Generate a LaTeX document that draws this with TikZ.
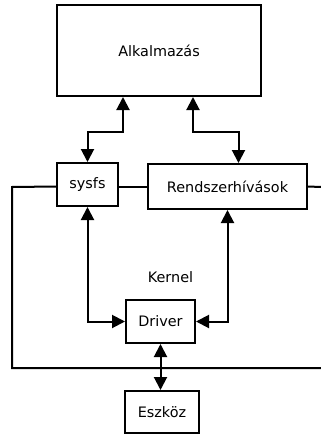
\documentclass[tikz,border=0pt]{standalone}
\usepackage{fontspec}
\setmainfont{DejaVu Sans}
\usetikzlibrary{arrows.meta}
\begin{document}
\begin{tikzpicture}[x=1pt,y=-1pt,
  font=\fontsize{14.4pt}{17pt}\selectfont,
  box/.style={draw,line width=2pt,rectangle,inner sep=0pt},
  conn/.style={line width=2pt},
  dbl/.style={line width=2pt,{Triangle[width=13pt,length=13pt]}-{Triangle[width=13pt,length=13pt]}}]
\useasboundingbox (0,0) rectangle (321,434);
\node[box,minimum width=204pt,minimum height=91pt] (alk) at (159,50.5) {Alkalmazás};
\node[box,minimum width=61pt,minimum height=43pt] (sys) at (87.5,184.5) {sysfs};
\node[box,minimum width=159pt,minimum height=45pt] (rs) at (227.5,186.5) {Rendszerhívások};
\node[box,minimum width=69pt,minimum height=43pt] (drv) at (160.5,321.5) {Driver};
\node[box,minimum width=74pt,minimum height=42pt] (esz) at (162,412) {Eszköz};
\node (kern) at (170.5,277) {Kernel};
\coordinate (rend) at (321,187);
\coordinate (lt) at (12,187);
\coordinate (lb) at (12,368);
\coordinate (rb) at (321,368);
\draw[dbl] ([xshift=-36pt]alk.south) -- ++(0,35) -| (sys.north);
\draw[dbl] ([xshift=34pt]alk.south) -- ++(0,35) -| ([xshift=11pt]rs.north);
\draw[dbl] (sys.south) |- (drv.west);
\draw[dbl] (rs.south) |- (drv.east);
\draw[dbl] (drv.south) -- (drv.south |- esz.north);
\draw[conn] (rs.west -| sys.east) -- (rs.west);
\draw[conn] (rs.east) -- (rend);
\draw[conn] (rs.west -| sys.west) -- (lt) -- (lb) -- (rb);
\end{tikzpicture}
\end{document}
